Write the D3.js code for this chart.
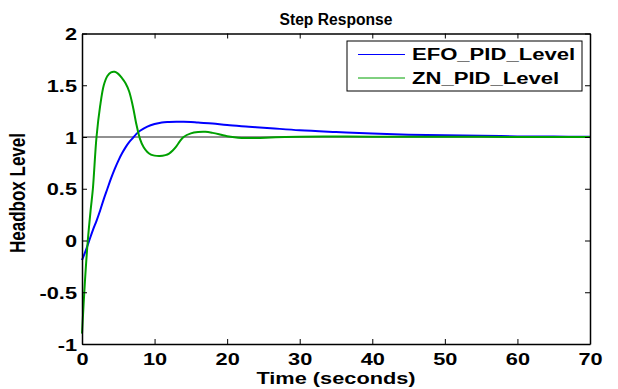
<!DOCTYPE html>
<html>
<head>
<meta charset="utf-8">
<script src="https://cdn.jsdelivr.net/npm/d3@7"></script>
<style>
  body { margin: 0; background: #fff; }
  text { font-family: 'Liberation Sans', Arial, sans-serif; font-weight: bold; fill: #000; }
</style>
</head>
<body>
<div id="chart-area"></div>
<script>
// step response data
const efoTime = [0, 0.5, 1, 1.5, 2, 2.5, 3, 3.5, 4, 4.5, 5, 5.5, 6, 6.5, 7, 7.5, 8, 9, 10, 11, 12, 13, 14, 15, 16, 18, 20, 23, 26, 30, 35, 40, 45, 50, 55, 60, 65, 70];
const efoLevel = [-0.19, -0.1, 0.0, 0.1, 0.19, 0.29, 0.4, 0.5, 0.6, 0.69, 0.77, 0.84, 0.9, 0.95, 0.99, 1.03, 1.06, 1.1, 1.125, 1.14, 1.145, 1.148, 1.148, 1.146, 1.14, 1.13, 1.115, 1.1, 1.085, 1.065, 1.048, 1.033, 1.022, 1.016, 1.012, 1.006, 1.004, 1.003];

const znTime = [0, 0.4, 0.8, 1.2, 1.5, 2, 2.5, 3, 3.5, 4, 4.5, 5, 5.5, 6, 6.5, 7, 7.5, 8, 8.5, 9, 9.5, 10, 10.7, 11.5, 12, 12.5, 13, 13.5, 14, 15, 16, 17, 18, 19, 20, 21, 22, 24, 26, 28, 30, 35, 40, 50, 60, 70];
const znLevel = [-0.9, -0.4, 0.0, 0.3, 0.5, 1.0, 1.3, 1.5, 1.59, 1.625, 1.63, 1.61, 1.57, 1.52, 1.44, 1.3, 1.12, 0.98, 0.9, 0.855, 0.83, 0.82, 0.816, 0.825, 0.84, 0.87, 0.91, 0.96, 1.0, 1.035, 1.048, 1.05, 1.04, 1.025, 1.008, 0.997, 0.991, 0.99, 0.995, 1.0, 1.003, 1.004, 1.003, 1.002, 1.001, 1.0];

const xTicks = [0, 10, 20, 30, 40, 50, 60, 70];
const yTicks = [-1, -0.5, 0, 0.5, 1, 1.5, 2];
const legendNames = ['EFO_PID_Level', 'ZN_PID_Level'];
const lineColors = ['#0000ff', '#00a000'];

const margins = { top: 33.5, right: 28, bottom: 45, left: 82 };
const width = 618 - margins.left - margins.right;
const height = 389 - margins.top - margins.bottom;
const stretch = 1.28; // the picture is wider than tall text would suggest

const svg = d3.select('#chart-area')
  .append('svg')
  .attr('width', 618)
  .attr('height', 389);

const g = svg.append('g')
  .attr('transform', 'translate(' + margins.left + ', ' + margins.top + ')');

const x = d3.scaleLinear().domain([0, 70]).range([0, width]);
const y = d3.scaleLinear().domain([-1, 2]).range([height, 0]);

// reference line at 1
g.append('line')
  .attr('x1', 0)
  .attr('x2', width)
  .attr('y1', y(1))
  .attr('y2', y(1))
  .attr('stroke', '#222')
  .attr('stroke-width', 1);

// curves
const line = d3.line()
  .x((d) => x(d[0]))
  .y((d) => y(d[1]))
  .curve(d3.curveCatmullRom.alpha(0.5));

const series = [d3.zip(efoTime, efoLevel), d3.zip(znTime, znLevel)];

g.selectAll('path.curve')
  .data(series)
  .enter()
  .append('path')
  .attr('class', 'curve')
  .attr('d', line)
  .attr('fill', 'none')
  .attr('stroke', (d, i) => lineColors[i])
  .attr('stroke-width', 2);

// axes, ticks pointing inward
const xAxisCall = d3.axisBottom(x).tickValues(xTicks).tickSize(-5).tickSizeOuter(0).tickPadding(9);
g.append('g')
  .attr('class', 'x axis-bottom')
  .attr('transform', 'translate(0, ' + height + ')')
  .call(xAxisCall)
  .selectAll('text')
    .attr('font-size', '17px')
    .attr('dy', '0.71em')
    .attr('y', 9)
    .attr('transform', 'scale(' + stretch + ',1)');

g.append('g')
  .attr('class', 'x axis-top')
  .call(d3.axisTop(x).tickValues(xTicks).tickSize(-5).tickSizeOuter(0).tickFormat(''));

const yAxisCall = d3.axisLeft(y).tickValues(yTicks).tickSize(-5).tickSizeOuter(0)
  .tickFormat((d) => String(d));
g.append('g')
  .attr('class', 'y axis-left')
  .call(yAxisCall)
  .selectAll('text')
    .attr('font-size', '17px')
    .attr('x', -5 / stretch)
    .attr('dy', '0.36em')
    .attr('transform', 'scale(' + stretch + ',1)');

g.append('g')
  .attr('class', 'y axis-right')
  .attr('transform', 'translate(' + width + ', 0)')
  .call(d3.axisRight(y).tickValues(yTicks).tickSize(-5).tickSizeOuter(0).tickFormat(''));

svg.selectAll('.domain').attr('stroke', '#000').attr('stroke-width', 1.5);
svg.selectAll('.tick line').attr('stroke', '#000');

// title
svg.append('text')
  .attr('transform', 'translate(' + (margins.left + width / 2) + ', 25) scale(0.92,1)')
  .attr('font-size', '17px')
  .attr('text-anchor', 'middle')
  .text('Step Response');

// X Label
svg.append('text')
  .attr('transform', 'translate(' + (margins.left + width / 2) + ', 384) scale(' + stretch + ',1)')
  .attr('font-size', '17px')
  .attr('text-anchor', 'middle')
  .text('Time (seconds)');

// Y Label
svg.append('text')
  .attr('transform', 'translate(25, 193) rotate(-90) scale(1,' + stretch + ')')
  .attr('font-size', '17px')
  .attr('text-anchor', 'middle')
  .text('Headbox Level');

// legend
const legend = svg.append('g').attr('transform', 'translate(347, 41)');
legend.append('rect')
  .attr('width', 235)
  .attr('height', 50)
  .attr('fill', '#fff')
  .attr('stroke', '#000')
  .attr('stroke-width', 1);

const rows = legend.selectAll('g.row')
  .data(legendNames)
  .enter()
  .append('g')
  .attr('class', 'row')
  .attr('transform', (d, i) => 'translate(0, ' + (13.5 + i * 23.5) + ')');

rows.append('line')
  .attr('x1', 11)
  .attr('x2', 58)
  .attr('stroke', (d, i) => lineColors[i])
  .attr('stroke-width', 1);

rows.append('text')
  .attr('transform', 'translate(65, 5.5) scale(1.38,1)')
  .attr('font-size', '16px')
  .text((d) => d);
</script>
</body>
</html>
